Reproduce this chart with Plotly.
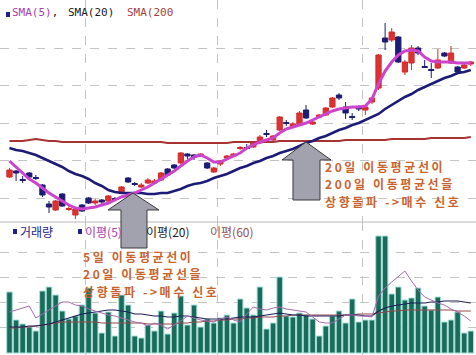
import plotly.graph_objects as go

W, H = 476, 355
idx = list(range(71))

# ---- price data (arbitrary price units) ----
open_ = [45, 51, 42.5, 49, 44.5, 37, 18, 12, 28, 12.5, 7, 17, 24, 19, 22, 21, 23.5, 29, 44, 38.5,
         35, 39, 39, 42, 53, 57, 59, 68, 67, 66, 59, 50, 58, 64, 66, 73.5, 74.5, 75, 79, 88.5,
         82, 92, 99.5, 96, 97, 112, 98, 105, 107, 115, 127, 115, 105.5, 115, 112, 120, 134, 184, 182, 185,
         150, 159, 174, 155.5, 152.5, 154, 169, 159, 155, 154, 158]
high = [54, 52, 46, 50, 47, 38, 21, 22, 29, 16, 14, 18, 25, 23, 23, 27, 25, 36, 45, 40,
        39, 44, 43, 50, 54, 58, 70, 69, 68, 69, 60, 55, 62, 67, 69, 76, 78, 80, 87, 92,
        87, 106, 102, 100, 111, 117, 102, 108, 115, 125, 129, 120, 109, 117, 116, 125, 168, 199, 194, 186,
        162, 177, 176, 162, 159, 173, 170, 176, 156, 158, 161]
low = [44, 41, 39, 43, 42, 25, 9, 11, 15, 11, 3, 10, 18, 17, 18, 20, 21, 28, 39, 36,
       34, 38, 38, 41, 46, 53, 58, 63, 62, 65, 53, 49, 56, 63, 65, 72, 72, 74, 78, 85,
       81, 91, 96, 95, 96, 103, 97, 104, 106, 114, 122, 103, 102, 111, 107, 118, 132, 172, 180, 159,
       147, 152, 167, 154, 144, 153, 165, 158, 149, 153, 156]
close = [52, 49, 41.5, 45, 43.5, 27, 15, 21, 16, 13.5, 13, 11, 19, 21, 20, 26, 22.5, 35, 40, 37.5,
         37, 42, 41, 49, 47, 54, 69, 66, 65, 68, 54, 54, 61, 66, 68, 74.5, 73.5, 79, 85, 87.5,
         86, 105, 98.5, 98, 109, 104, 100, 107, 114, 124, 124, 109, 104.5, 113, 115, 124, 167, 180, 190, 160,
         160, 174, 169, 154.5, 151.5, 162, 166, 169, 150, 157, 160]

sma5 = [61, 55, 50, 43, 39, 34, 29, 25, 21, 17, 14, 13, 14, 15, 17, 19, 22, 25, 27, 29,
        32, 35, 39, 43, 47, 51, 56, 61, 65, 67, 64, 60, 60, 63, 66, 69, 74, 77, 80, 82,
        84, 89, 93, 95, 97, 99, 102, 105, 108, 111, 113, 114, 115, 115, 116, 123, 138, 151, 160, 167,
        171, 172, 171, 165, 161, 160, 160, 160, 159, 159, 159]
sma20 = [74, 72, 71, 69, 67, 64, 61, 58, 55, 51, 48, 46, 43, 39, 36, 32, 30, 29, 29, 29,
         29, 28, 28, 29, 29, 31, 33, 36, 38, 39, 41, 44, 46, 48, 51, 54, 56, 59, 61, 64,
         66, 69, 71, 73, 76, 79, 81, 84, 86, 89, 92, 94, 97, 99, 102, 105, 108, 113, 117, 121,
         125, 128, 132, 135, 138, 141, 144, 146, 149, 150, 152]
sma200 = [81, 81, 81, 82, 83, 82, 81, 81, 80, 80, 80, 80, 80, 80, 80, 80, 80, 80, 80, 80,
          80, 80, 80, 80, 79, 79, 79, 79, 79, 79, 79, 79, 79, 79, 80, 80, 80, 80, 80, 80,
          80, 81, 81, 81, 81, 81, 81, 81, 81, 81, 81, 82, 82, 82, 82, 82, 82, 82, 83, 83,
          83, 83, 83, 83, 84, 84, 84, 84, 84, 84, 85]

# ---- volume data ----
volume = [61, 33, 29, 26, 22, 62, 66, 58, 42, 34, 37, 48, 65, 40, 20, 41, 17, 58, 48, 17,
          15, 28, 22, 42, 19, 40, 57, 28, 48, 26, 34, 30, 35, 38, 30, 54, 45, 38, 66, 24,
          30, 76, 37, 36, 40, 38, 34, 17, 27, 37, 42, 30, 54, 31, 33, 33, 117, 117, 59, 66,
          53, 55, 65, 47, 43, 56, 31, 33, 41, 20, 22]
vma5 = [41, 43, 45, 47, 35, 39, 43, 47, 51, 51, 48, 47, 44, 42, 40, 38, 37, 35, 33, 31,
        30, 27, 30, 28, 24, 28, 32, 37, 35, 33, 32, 31, 34, 36, 33, 31, 39, 46, 44, 43,
        45, 46, 44, 43, 42, 41, 36, 31, 30, 30, 34, 38, 38, 37, 37, 36, 57, 65, 71, 77,
        82, 72, 63, 56, 53, 50, 48, 44, 41, 37, 32]
vma20 = [26, 26, 26, 27, 27, 28, 29, 31, 33, 35, 37, 39, 40, 41, 42, 43, 43, 42, 41, 39,
         39, 38, 37, 37, 36, 36, 37, 37, 36, 35, 34, 34, 34, 34, 35, 36, 36, 36, 37, 38,
         39, 40, 39, 38, 38, 37, 37, 37, 37, 37, 37, 38, 38, 38, 37, 37, 42, 45, 47, 48,
         49, 50, 50, 50, 51, 51, 52, 52, 52, 51, 50]
vma60 = [25, 25, 26, 26, 27, 28, 29, 30, 31, 31, 31, 31, 31, 31, 30, 30, 30, 30, 30, 30,
         30, 29, 29, 29, 29, 29, 30, 30, 31, 31, 32, 32, 33, 33, 34, 34, 35, 35, 36, 36,
         36, 37, 37, 38, 38, 38, 38, 38, 38, 38, 38, 38, 38, 39, 39, 39, 40, 41, 42, 42,
         43, 43, 43, 43, 43, 43, 43, 43, 42, 42, 42]

price_grid = [24, 61.5, 99, 136.5, 174]
vol_grid = [26, 51, 76, 101]
period_breaks = [11.5, 31.5, 53.5]

fig = go.Figure()
fig.add_trace(go.Candlestick(
    x=idx, open=open_, high=high, low=low, close=close,
    increasing=dict(line=dict(color='#d42a2a', width=1), fillcolor='#dc3232'),
    decreasing=dict(line=dict(color='#1c1c72', width=1), fillcolor='#1c1c72'),
    whiskerwidth=0, xaxis='x', yaxis='y', showlegend=False, hoverinfo='skip'))
fig.add_trace(go.Scatter(x=idx, y=sma200, mode='lines', line=dict(color='#a83232', width=2),
                         xaxis='x', yaxis='y', showlegend=False))
fig.add_trace(go.Scatter(x=idx, y=sma20, mode='lines', line=dict(color='#1c1c78', width=2.6),
                         xaxis='x', yaxis='y', showlegend=False))
fig.add_trace(go.Scatter(x=idx, y=sma5, mode='lines', line=dict(color='#cc44cc', width=3),
                         xaxis='x', yaxis='y', showlegend=False))

fig.add_trace(go.Bar(x=idx, y=volume, marker=dict(color='#1b6b5b', line=dict(color='#a6e0da', width=1)),
                     xaxis='x2', yaxis='y2', showlegend=False))
fig.add_trace(go.Scatter(x=idx, y=vma60, mode='lines', line=dict(color='#98484a', width=1),
                         xaxis='x2', yaxis='y2', showlegend=False))
fig.add_trace(go.Scatter(x=idx, y=vma20, mode='lines', line=dict(color='#1e1e5a', width=1.2),
                         xaxis='x2', yaxis='y2', showlegend=False))
fig.add_trace(go.Scatter(x=idx, y=vma5, mode='lines', line=dict(color='#a66aae', width=1),
                         xaxis='x2', yaxis='y2', showlegend=False))

split = 1 - 222 / H
xr = [-1.44, 70.79]
grid = dict(showgrid=True, gridcolor='#c4c4c4', griddash='dash', gridwidth=1,
            showticklabels=False, ticks='', zeroline=False, showline=False)

fig.update_layout(
    width=W, height=H, margin=dict(l=0, r=0, t=0, b=0),
    paper_bgcolor='white', plot_bgcolor='white',
    boxgap=0.2, boxgroupgap=0, bargap=0.15,
    xaxis=dict(domain=[0, 1], range=xr, tickvals=period_breaks, anchor='y',
               rangeslider=dict(visible=False), **grid),
    xaxis2=dict(domain=[0, 1], range=xr, tickvals=period_breaks, anchor='y2', **grid),
    yaxis=dict(domain=[split, 1], range=[0, 222], tickvals=price_grid, **grid),
    yaxis2=dict(domain=[0, split], range=[-2, 131], tickvals=vol_grid, **grid),
)


def px(x):
    return x / W


def py(y):
    return 1 - y / H


def poly(pts):
    return 'M ' + ' L '.join(f'{px(a):.4f},{py(b):.4f}' for a, b in pts) + ' Z'


shapes = [
    dict(type='line', xref='paper', yref='paper', x0=0, x1=1, y0=py(222), y1=py(222),
         line=dict(color='#b8b8b8', width=1)),
    dict(type='rect', xref='paper', yref='paper', x0=px(6), x1=px(10), y0=py(17), y1=py(12),
         fillcolor='#20208a', line=dict(width=0)),
    dict(type='rect', xref='paper', yref='paper', x0=px(13), x1=px(17), y0=py(234), y1=py(229),
         fillcolor='#20208a', line=dict(width=0)),
    dict(type='rect', xref='paper', yref='paper', x0=px(78), x1=px(82), y0=py(234), y1=py(229),
         fillcolor='#20208a', line=dict(width=0)),
    dict(type='path', xref='paper', yref='paper', layer='above',
         path=poly([(133, 193), (159, 210), (147, 210), (147, 248), (121, 248), (121, 210), (108, 210)]),
         fillcolor='#a2a2ae', line=dict(color='#3a3a3a', width=1)),
    dict(type='path', xref='paper', yref='paper', layer='above',
         path=poly([(306, 142), (331, 160), (320, 160), (320, 200), (293, 200), (293, 160), (282, 160)]),
         fillcolor='#a2a2ae', line=dict(color='#3a3a3a', width=1)),
]
fig.update_layout(shapes=shapes)

mono = 'DejaVu Sans Mono'
kr = 'Noto Sans CJK KR'
ann = []


def label(x, y, text, color, family, size, bold=False):
    t = f'<b>{text}</b>' if bold else text
    ann.append(dict(xref='paper', yref='paper', x=px(x), y=py(y), xanchor='left', yanchor='middle',
                    align='left', text=t, showarrow=False, borderpad=0,
                    font=dict(family=family, size=size, color=color)))


label(11, 13, 'SMA(5)<span style="color:#222">,</span>', '#a640b4', mono, 11)
label(67, 13, 'SMA(20)', '#1a1a1a', mono, 11)
label(126, 13, 'SMA(200', '#a04040', mono, 11)

label(19, 231, '거래량', '#22228a', kr, 12)
label(84, 231, '이평(5)', '#a640b4', kr, 12)
label(145, 231, '이평(20)', '#222222', kr, 12)
label(209, 231, '이평(60)', '#985050', kr, 12)

orange = '#c8642f'


def wide(s):
    return f'<span style="letter-spacing:2.6px">{s}</span>'


for y, t in zip([256, 273.5, 291], ['5일 이동평균선이', '20일 이동평균선을', '상향돌파 ->매수 신호']):
    label(82, y, wide(t), orange, kr, 12, bold=True)
for y, t in zip([166, 183.5, 201], ['20일 이동평균선이', '200일 이동평균선을', '상향돌파 ->매수 신호']):
    label(324, y, wide(t), orange, kr, 12, bold=True)

fig.update_layout(annotations=ann)
fig.write_html('out.html')
